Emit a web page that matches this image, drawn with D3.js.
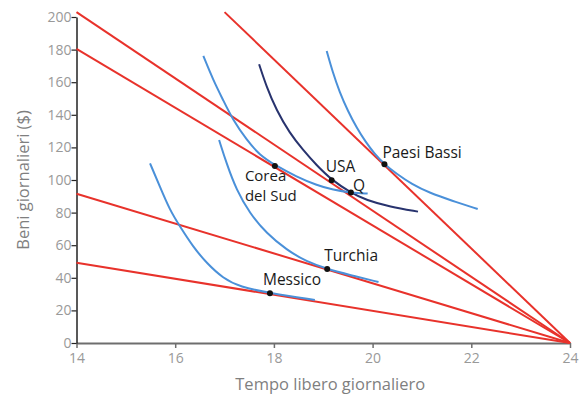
<!DOCTYPE html>
<html>
<head>
<meta charset="utf-8">
<script src="https://cdn.jsdelivr.net/npm/d3@7"></script>
<style>
body{margin:0;background:#fff;}
text{font-family:"Open Sans",sans-serif;}
</style>
</head>
<body>
<svg id="chart"></svg>
<script>
// budget lines: all end at 24 hours of free time, 0 goods
var budgetStartX=[17,14,14,14,14]
var budgetStartY=[203,203,180.4,91.6,49.3]
var budgetEnd=[24,0]

// indifference curves
var curveMessico=[[15.49,110.2],[15.69,95.9],[15.89,81.6],[16.10,71.3],[16.36,59.1],[16.64,48.9],[16.97,39.7],[17.31,34.5],[17.92,30.5],[18.83,26.4]]
var curveTurchia=[[16.89,124.5],[17.04,110.2],[17.24,93.9],[17.51,79.6],[17.85,67.3],[18.26,57.1],[18.66,49.9],[19.08,45.4],[19.54,41.7],[20.12,37.4]]
var curveCorea=[[16.57,176.1],[16.77,161.3],[16.97,149.1],[17.17,136.8],[17.45,124.5],[17.71,115.3],[18.05,108.6],[18.46,102.0],[18.86,96.9],[19.20,93.9],[19.56,92.2],[19.90,91.7]]
var curveUSA=[[17.70,171.0],[17.85,157.2],[18.05,142.9],[18.32,128.7],[18.59,118.4],[18.86,109.2],[19.17,100.0],[19.56,92.2],[19.87,87.7],[20.35,83.6],[20.92,80.6]]
var curvePaesiBassi=[[19.07,179.1],[19.19,166.3],[19.33,154.0],[19.50,142.3],[19.68,131.9],[19.86,123.3],[20.04,116.0],[20.24,109.6],[20.49,103.7],[20.79,97.5],[21.16,92.0],[21.60,87.4],[22.13,82.2]]

// marked points and their labels
var pointNames=["Corea del Sud","USA","Q","Paesi Bassi","Turchia","Messico"]
var pointX=[18.02,19.17,19.56,20.24,19.08,17.92]
var pointY=[108.6,99.8,92.3,109.6,45.4,30.5]

var xTicks=[14,16,18,20,22,24]
var yTicks=[0,20,40,60,80,100,120,140,160,180,200]

var screen={width:587,height:394}
var margins={left:76.5,right:17,top:17,bottom:51}
var graph={
    width:screen.width-margins.left-margins.right,
    height:screen.height-margins.top-margins.bottom}

var svg=d3.select("#chart")
    .attr("width",screen.width)
    .attr("height",screen.height)

var xScale=d3.scaleLinear().domain([14,24]).range([0,graph.width])
var yScale=d3.scaleLinear().domain([0,200]).range([graph.height,0])

var target=svg.append("g")
    .attr("transform","translate("+margins.left+","+margins.top+")")

//axes
var xAxis=d3.axisBottom(xScale).tickValues(xTicks).tickSize(5).tickSizeOuter(0)
var yAxis=d3.axisLeft(yScale).tickValues(yTicks).tickSize(5).tickSizeOuter(0)

var gx=target.append("g")
    .attr("transform","translate(0,"+graph.height+")")
    .call(xAxis)
gx.select(".domain").attr("stroke","#6e6e6e").attr("stroke-width",2)
gx.selectAll(".tick line").attr("stroke","#6e6e6e").attr("stroke-width",1.5)
gx.selectAll(".tick text").attr("fill","#999").attr("font-size",14).attr("dy","0.85em")

var gy=target.append("g").call(yAxis)
gy.select(".domain").attr("stroke","#222").attr("stroke-width",1.5)
gy.selectAll(".tick line").attr("stroke","#222").attr("stroke-width",1.2)
gy.selectAll(".tick text").attr("fill","#999").attr("font-size",14).attr("x",-5)

//budget lines
budgetStartX.forEach(function(x0,i){
    target.append("line")
        .attr("x1",xScale(x0))
        .attr("y1",yScale(budgetStartY[i]))
        .attr("x2",xScale(budgetEnd[0]))
        .attr("y2",yScale(budgetEnd[1]))
        .attr("stroke","#e8322b")
        .attr("stroke-width",2)
})

//indifference curves
var lineGenerator=d3.line()
    .x(function(d){return xScale(d[0])})
    .y(function(d){return yScale(d[1])})
    .curve(d3.curveBasis)

var curves=[
    {data:curveMessico,color:"#4a90d9"},
    {data:curveTurchia,color:"#4a90d9"},
    {data:curvePaesiBassi,color:"#4a90d9"},
    {data:curveUSA,color:"#28336e"},
    {data:curveCorea,color:"#4a90d9"}]
curves.forEach(function(c){
    target.append("path")
        .datum(c.data)
        .attr("d",lineGenerator)
        .attr("fill","none")
        .attr("stroke",c.color)
        .attr("stroke-width",2)
})

//points
pointNames.forEach(function(name,i){
    target.append("circle")
        .attr("cx",xScale(pointX[i]))
        .attr("cy",yScale(pointY[i]))
        .attr("r",3)
        .attr("fill","#111")
})

//labels
var labelDx=[-30,-6,2,-2,-3,-7]
var labelDy=[15,-8,-1.5,-6.5,-7.5,-8.5]
pointNames.forEach(function(name,i){
    var lx=xScale(pointX[i])+labelDx[i]
    var ly=yScale(pointY[i])+labelDy[i]
    var lines=name=="Corea del Sud"?["Corea","del Sud"]:[name]
    lines.forEach(function(s,j){
        target.append("text")
            .attr("x",lx)
            .attr("y",ly+j*20.5)
            .attr("font-size",lines.length>1?15:15.5)
            .attr("fill","#1a1a1a")
            .text(s)
    })
})

//axis titles
svg.append("text")
    .text("Tempo libero giornaliero")
    .attr("text-anchor","middle")
    .attr("x",margins.left+graph.width/2+7)
    .attr("y",390)
    .attr("font-size",16.5)
    .attr("fill","#7f7f7f")
svg.append("g")
    .attr("transform","translate(29,"+(margins.top+graph.height/2)+")")
    .append("text")
    .text("Beni giornalieri ($)")
    .attr("text-anchor","middle")
    .attr("transform","rotate(270)")
    .attr("font-size",16.5)
    .attr("fill","#7f7f7f")
</script>
</body>
</html>
